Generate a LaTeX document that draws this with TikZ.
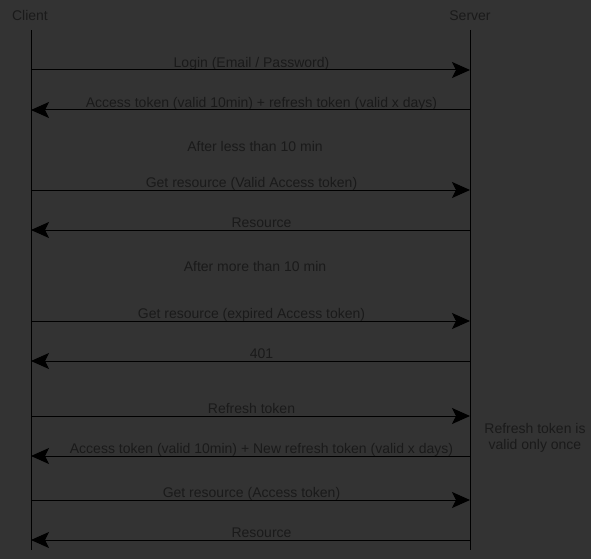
\documentclass[tikz,border=0pt]{standalone}
\usepackage{fontspec}
\setmainfont{Liberation Sans}
\usetikzlibrary{arrows.meta}
\definecolor{bg}{HTML}{333333}
\definecolor{txt}{HTML}{1A1A1A}
\begin{document}
\begin{tikzpicture}[x=1pt,y=-1pt,
  font=\fontsize{14}{16}\selectfont,
  lifeline/.style={draw=black, line width=1pt},
  msg/.style={draw=black, line width=1pt, -{Stealth[length=18pt,width=16pt,inset=4pt]}},
  lbl/.style={text=txt, anchor=base, inner sep=0pt}]
\fill[bg] (0,0) rectangle (591,559);
\useasboundingbox (0,0) rectangle (591,559);
% participants
\node[lbl] (client) at (30,21) {Client};
\node[lbl] (server) at (470,21) {Server};
\coordinate (ct) at (31,30); \coordinate (cb) at (31,550);
\coordinate (st) at (470,30); \coordinate (sb) at (470,550);
\draw[lifeline] (ct) -- (cb);
\draw[lifeline] (st) -- (sb);
% messages
\foreach \i/\y/\d/\t in {
  1/70/r/{Login (Email / Password)},
  2/110/l/{Access token (valid 10min) + refresh token (valid x days)},
  3/190/r/{Get resource (Valid Access token)},
  4/230/l/{Resource},
  5/321/r/{Get resource (expired Access token)},
  6/361/l/{401},
  7/416/r/{Refresh token},
  8/456/l/{Access token (valid 10min) + New refresh token (valid x days)},
  9/500/r/{Get resource (Access token)},
  10/540/l/{Resource}}{
  \coordinate (c\i) at (31,\y);
  \coordinate (s\i) at (470,\y);
  \if r\d
    \node[lbl] (m\i) at (251.5,\y-2.5) {\t};
    \draw[msg] (c\i) -- (s\i);
  \else
    \node[lbl] (m\i) at (261.5,\y-2.5) {\t};
    \draw[msg] (s\i) -- (c\i);
  \fi
}
% notes
\node[lbl] (after1) at (255,151) {After less than 10 min};
\node[lbl] (after2) at (255,271) {After more than 10 min};
\node[lbl] (note1) at (535,433) {Refresh token is};
\node[lbl] (note2) at (535,449) {valid only once};
\end{tikzpicture}
\end{document}
